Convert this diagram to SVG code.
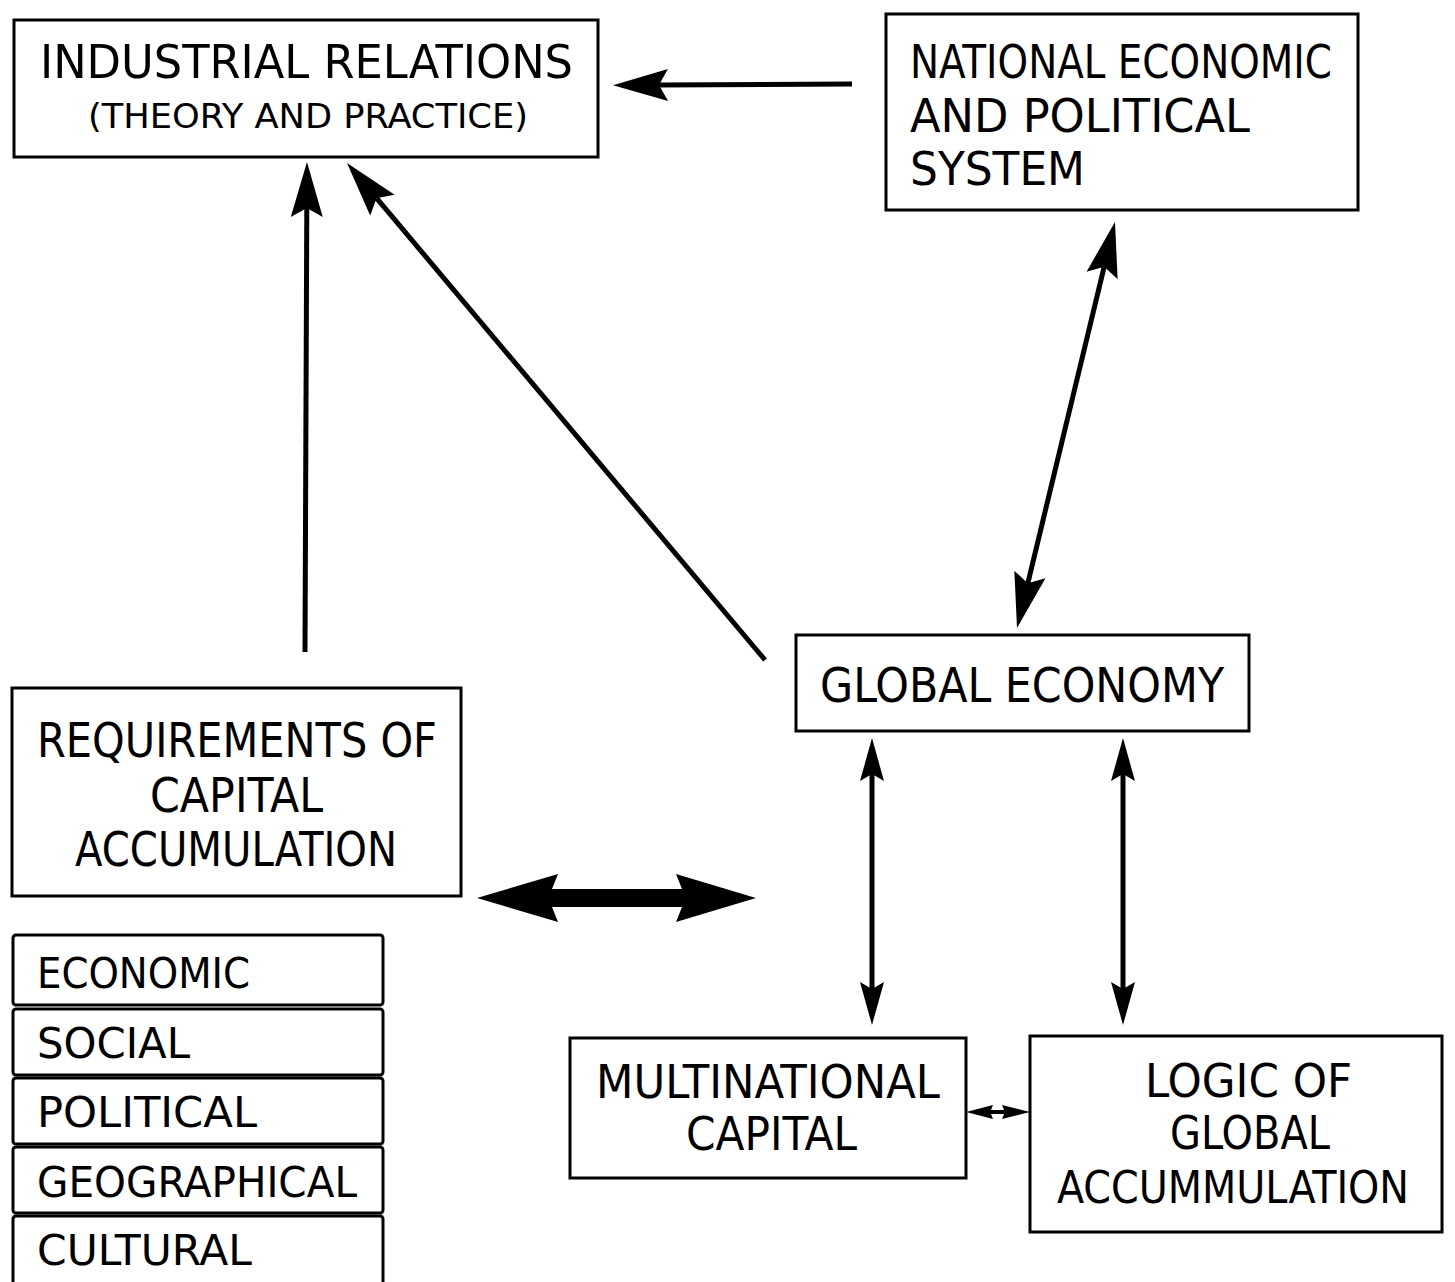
<svg xmlns="http://www.w3.org/2000/svg" width="1455" height="1282" viewBox="0 0 1455 1282">
<style>
.box{fill:#fff;stroke:#000;stroke-width:3}
.lbl{font-family:"DejaVu Sans Condensed","DejaVu Sans","Liberation Sans",sans-serif;fill:#000}
.con{stroke:#000;stroke-width:5;fill:none}
.solid{fill:#000;stroke:none}
</style>
<defs>
<marker id="big" markerUnits="userSpaceOnUse" viewBox="-60 -20 64 40" refX="-46" refY="0" markerWidth="64" markerHeight="40" orient="auto-start-reverse">
<path d="M0,0 L-55,-16 L-46,0 L-55,16 Z" fill="#000"/>
</marker>
<marker id="med" markerUnits="userSpaceOnUse" viewBox="-50 -16 54 32" refX="-36" refY="0" markerWidth="54" markerHeight="32" orient="auto-start-reverse">
<path d="M0,0 L-43,-12 L-36,0 L-43,12 Z" fill="#000"/>
</marker>
</defs>
<rect width="1455" height="1282" fill="#fff"/>

<g id="connectors">
<line class="con" x1="852" y1="84" x2="659" y2="85" marker-end="url(#big)"/>
<line class="con" x1="305" y1="652" x2="306.8" y2="208" marker-end="url(#big)"/>
<line class="con" x1="765" y1="660" x2="376.6" y2="198.2" marker-end="url(#big)"/>
<line class="con" x1="1027.8" y1="583.3" x2="1104.2" y2="266.7" marker-start="url(#big)" marker-end="url(#big)"/>
<line class="con" x1="872" y1="774" x2="872" y2="989" marker-start="url(#med)" marker-end="url(#med)"/>
<line class="con" x1="1123" y1="774" x2="1123" y2="989" marker-start="url(#med)" marker-end="url(#med)"/>
<path class="solid" d="M477,898 L558,874 L552,889 L682,889 L676,874 L756,898 L676,922 L682,907 L552,907 L558,922 Z"/>
<path class="solid" d="M966,1112 L993,1105 L991,1110 L1004,1110 L1002,1105 L1030,1112 L1002,1119 L1004,1114 L991,1114 L993,1119 Z"/>
</g>

<g id="industrial-relations">
<rect class="box" x="14" y="20" width="584" height="137"/>
<text class="lbl" x="40" y="78" font-size="47" textLength="533" lengthAdjust="spacingAndGlyphs">INDUSTRIAL RELATIONS</text>
<text class="lbl" x="88" y="128" font-size="34" textLength="440" lengthAdjust="spacingAndGlyphs">(THEORY AND PRACTICE)</text>
</g>

<g id="national-system">
<rect class="box" x="886" y="14" width="472" height="196"/>
<text class="lbl" x="910" y="78" font-size="46" textLength="422" lengthAdjust="spacingAndGlyphs">NATIONAL ECONOMIC</text>
<text class="lbl" x="910" y="132" font-size="46" textLength="340" lengthAdjust="spacingAndGlyphs">AND POLITICAL</text>
<text class="lbl" x="910" y="185" font-size="46" textLength="175" lengthAdjust="spacingAndGlyphs">SYSTEM</text>
</g>

<g id="requirements">
<rect class="box" x="12" y="688" width="449" height="208"/>
<text class="lbl" x="37" y="757" font-size="48" textLength="400" lengthAdjust="spacingAndGlyphs">REQUIREMENTS OF</text>
<text class="lbl" x="150" y="812" font-size="48" textLength="173" lengthAdjust="spacingAndGlyphs">CAPITAL</text>
<text class="lbl" x="75" y="866" font-size="48" textLength="322" lengthAdjust="spacingAndGlyphs">ACCUMULATION</text>
</g>

<g id="factors">
<rect class="box" x="13" y="935" width="370" height="70" rx="3"/>
<rect class="box" x="13" y="1009" width="370" height="66" rx="3"/>
<rect class="box" x="13" y="1078" width="370" height="66" rx="3"/>
<rect class="box" x="13" y="1147" width="370" height="66" rx="3"/>
<rect class="box" x="13" y="1216" width="370" height="80" rx="3"/>
<text class="lbl" x="37" y="988" font-size="43" textLength="213" lengthAdjust="spacingAndGlyphs">ECONOMIC</text>
<text class="lbl" x="37" y="1058" font-size="43" textLength="153" lengthAdjust="spacingAndGlyphs">SOCIAL</text>
<text class="lbl" x="37" y="1127" font-size="43" textLength="220" lengthAdjust="spacingAndGlyphs">POLITICAL</text>
<text class="lbl" x="37" y="1197" font-size="43" textLength="320" lengthAdjust="spacingAndGlyphs">GEOGRAPHICAL</text>
<text class="lbl" x="37" y="1265" font-size="43" textLength="215" lengthAdjust="spacingAndGlyphs">CULTURAL</text>
</g>

<g id="global-economy">
<rect class="box" x="796" y="635" width="453" height="96"/>
<text class="lbl" x="820" y="702" font-size="48" textLength="404" lengthAdjust="spacingAndGlyphs">GLOBAL ECONOMY</text>
</g>

<g id="multinational-capital">
<rect class="box" x="570" y="1038" width="396" height="140"/>
<text class="lbl" x="596" y="1098" font-size="46" textLength="344" lengthAdjust="spacingAndGlyphs">MULTINATIONAL</text>
<text class="lbl" x="686" y="1150" font-size="46" textLength="171" lengthAdjust="spacingAndGlyphs">CAPITAL</text>
</g>

<g id="logic-of-global-accumulation">
<rect class="box" x="1030" y="1036" width="412" height="196"/>
<text class="lbl" x="1145" y="1097" font-size="46" textLength="207" lengthAdjust="spacingAndGlyphs">LOGIC OF</text>
<text class="lbl" x="1170" y="1149" font-size="46" textLength="160" lengthAdjust="spacingAndGlyphs">GLOBAL</text>
<text class="lbl" x="1057" y="1203" font-size="45" textLength="352" lengthAdjust="spacingAndGlyphs">ACCUMMULATION</text>
</g>
</svg>
